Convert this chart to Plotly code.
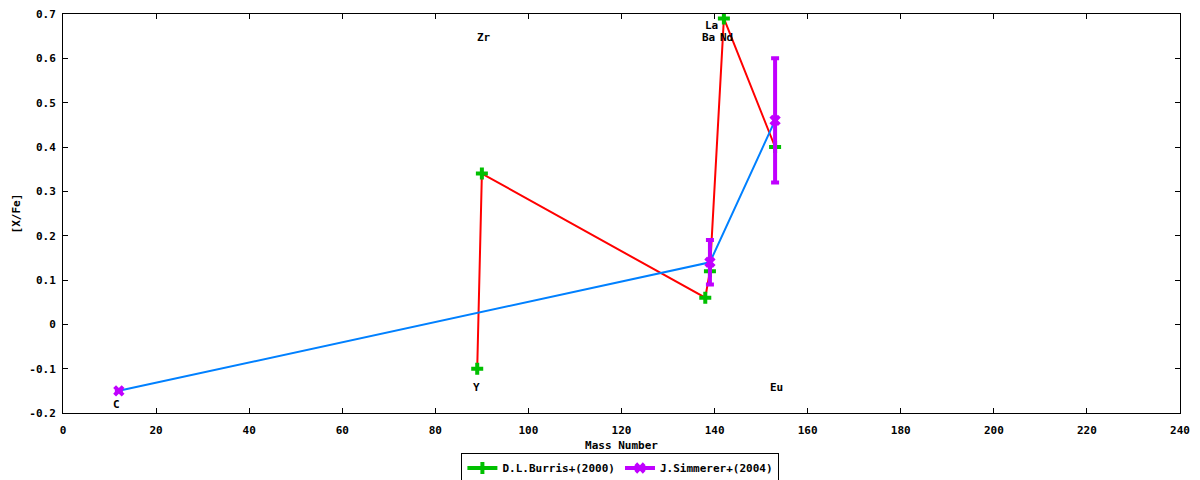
import plotly.graph_objects as go

# D.L.Burris+(2000)
burris_elem = ["Y", "Zr", "Ba", "La", "Nd", "Eu"]
burris_mass = [89, 90, 138, 139, 142, 153]
burris_xfe = [-0.10, 0.34, 0.06, 0.12, 0.69, 0.40]

# J.Simmerer+(2004)
simmerer_elem = ["C", "La", "Eu"]
simmerer_mass = [12, 139, 153]
simmerer_xfe = [-0.15, 0.14, 0.46]
simmerer_err = [0.0, 0.05, 0.14]

# element labels
label_text = ["C", "Y", "Zr", "Ba", "La", "Nd", "Eu"]
label_x = [11.6, 88.8, 90.5, 138.6, 139.4, 142.5, 153.4]
label_y = [-0.18, -0.142, 0.646, 0.646, 0.673, 0.646, -0.142]

x_ticks = list(range(0, 241, 20))
y_ticks = [-0.2, -0.1, 0, 0.1, 0.2, 0.3, 0.4, 0.5, 0.6, 0.7]
y_ticktext = ["-0.2", "-0.1", "0", "0.1", "0.2", "0.3", "0.4", "0.5", "0.6", "0.7"]

RED = "#ff0000"
GREEN = "#00c000"
BLUE = "#0080ff"
PURPLE = "#c000ff"
FONT = dict(family="DejaVu Sans Mono", size=11, color="black", weight="bold")

fig = go.Figure()

fig.add_trace(go.Scatter(x=burris_mass, y=burris_xfe, mode="lines",
                         line=dict(color=RED, width=2), showlegend=False, hoverinfo="skip"))
fig.add_trace(go.Scatter(x=simmerer_mass, y=simmerer_xfe, mode="lines",
                         line=dict(color=BLUE, width=2), showlegend=False, hoverinfo="skip"))

fig.add_trace(go.Scatter(x=burris_mass, y=burris_xfe, mode="markers", text=burris_elem,
                         marker=dict(symbol="cross", size=10, color=GREEN, line=dict(width=0)),
                         showlegend=False))
fig.add_trace(go.Scatter(x=simmerer_mass, y=simmerer_xfe, mode="markers", text=simmerer_elem,
                         marker=dict(symbol="x", size=10, color=PURPLE, line=dict(width=0)),
                         error_y=dict(type="data", array=simmerer_err, visible=True,
                                      color=PURPLE, thickness=4, width=4),
                         showlegend=False))

# legend entries
fig.add_trace(go.Scatter(x=[None], y=[None], mode="lines+markers", name="D.L.Burris+(2000)",
                         line=dict(color=GREEN, width=4),
                         marker=dict(symbol="cross", size=10, color=GREEN)))
fig.add_trace(go.Scatter(x=[None], y=[None], mode="lines+markers", name="J.Simmerer+(2004)",
                         line=dict(color=PURPLE, width=4),
                         marker=dict(symbol="x", size=10, color=PURPLE)))

for t, lx, ly in zip(label_text, label_x, label_y):
    fig.add_annotation(x=lx, y=ly, xref="x", yref="y", text=t, showarrow=False,
                       font=FONT, xanchor="center", yanchor="middle")

axis_common = dict(showline=True, linecolor="black", linewidth=1, mirror="ticks",
                   ticks="inside", ticklen=5, tickcolor="black", tickwidth=1,
                   showgrid=False, zeroline=False, tickfont=FONT, automargin=False)

fig.update_layout(
    width=1200, height=480,
    margin=dict(l=63, r=20, t=14, b=67),
    paper_bgcolor="white", plot_bgcolor="white",
    font=FONT,
    xaxis=dict(range=[0, 240], tickvals=x_ticks, ticklabelstandoff=7,
               title=dict(text="Mass Number", font=FONT, standoff=7), **axis_common),
    yaxis=dict(range=[-0.2, 0.7], tickvals=y_ticks, ticktext=y_ticktext, ticklabelstandoff=4,
               title=dict(text="[X/Fe]", font=FONT, standoff=6), **axis_common),
    legend=dict(orientation="h", x=0.517, xanchor="center", xref="container",
                y=0.025, yanchor="middle", yref="container",
                bordercolor="black", borderwidth=1, bgcolor="white", font=FONT,
                itemwidth=30, tracegroupgap=0),
    showlegend=True,
)

fig.write_html("out.html", config={"displayModeBar": False},
               post_script="document.body.style.margin='0';document.body.style.padding='0';")
